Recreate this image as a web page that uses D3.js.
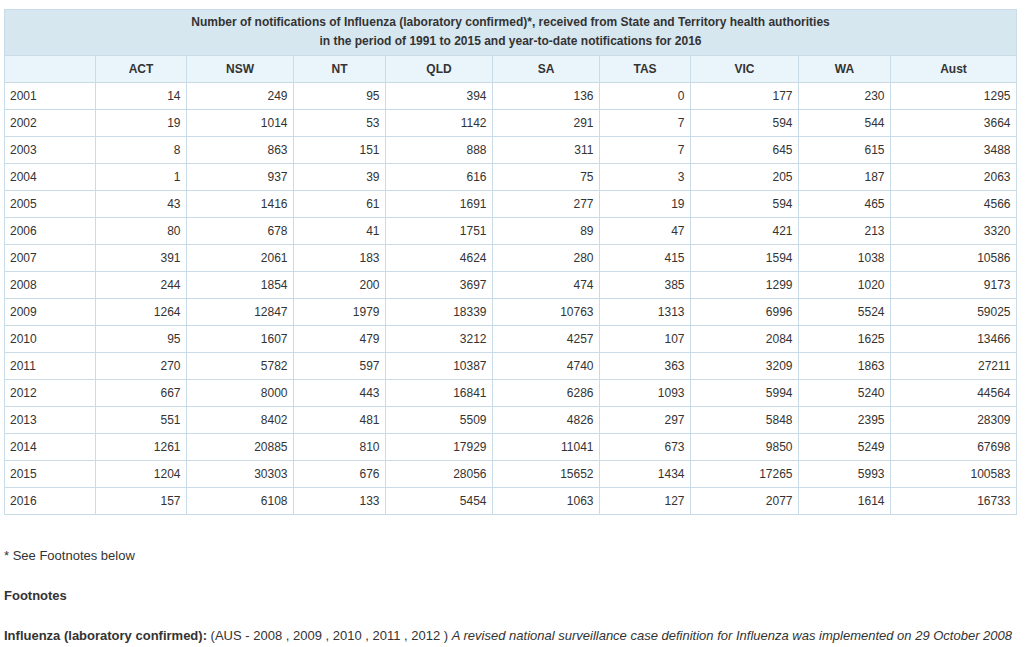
<!DOCTYPE html>
<html>
<head>
<meta charset="utf-8">
<script src="https://cdn.jsdelivr.net/npm/d3@7"></script>
<style>
  body { margin: 0; background: #fff; }
  text { font-family: "Liberation Sans", Arial, sans-serif; fill: #333; }
</style>
</head>
<body>
<svg id="chart" width="1029" height="647"></svg>
<script>
// Table data
var states = ["ACT", "NSW", "NT", "QLD", "SA", "TAS", "VIC", "WA", "Aust"];
var years = [2001, 2002, 2003, 2004, 2005, 2006, 2007, 2008, 2009, 2010, 2011, 2012, 2013, 2014, 2015, 2016];
var ACT = [14, 19, 8, 1, 43, 80, 391, 244, 1264, 95, 270, 667, 551, 1261, 1204, 157];
var NSW = [249, 1014, 863, 937, 1416, 678, 2061, 1854, 12847, 1607, 5782, 8000, 8402, 20885, 30303, 6108];
var NT = [95, 53, 151, 39, 61, 41, 183, 200, 1979, 479, 597, 443, 481, 810, 676, 133];
var QLD = [394, 1142, 888, 616, 1691, 1751, 4624, 3697, 18339, 3212, 10387, 16841, 5509, 17929, 28056, 5454];
var SA = [136, 291, 311, 75, 277, 89, 280, 474, 10763, 4257, 4740, 6286, 4826, 11041, 15652, 1063];
var TAS = [0, 7, 7, 3, 19, 47, 415, 385, 1313, 107, 363, 1093, 297, 673, 1434, 127];
var VIC = [177, 594, 645, 205, 594, 421, 1594, 1299, 6996, 2084, 3209, 5994, 5848, 9850, 17265, 2077];
var WA = [230, 544, 615, 187, 465, 213, 1038, 1020, 5524, 1625, 1863, 5240, 2395, 5249, 5993, 1614];
var Aust = [1295, 3664, 3488, 2063, 4566, 3320, 10586, 9173, 59025, 13466, 27211, 44564, 28309, 67698, 100583, 16733];
var series = [ACT, NSW, NT, QLD, SA, TAS, VIC, WA, Aust];

var titleLines = [
  "Number of notifications of Influenza (laboratory confirmed)*, received from State and Territory health authorities",
  "in the period of 1991 to 2015 and year-to-date notifications for 2016"
];

// layout
var colEdges = [4.5, 95.5, 186.5, 293.5, 385.5, 492.5, 599.5, 690.5, 798.5, 890.5, 1016.5];
var titleTop = 9.5, headTop = 55.5, bodyTop = 82.5, rowH = 27;
var left = colEdges[0], right = colEdges[colEdges.length - 1];
var border = "#c9dbe7";

var svg = d3.select("#chart");

var y = d3.scaleBand()
  .domain(years)
  .range([bodyTop, bodyTop + rowH * years.length]);

// title block
svg.append("rect")
  .attr("x", left).attr("y", titleTop)
  .attr("width", right - left).attr("height", headTop - titleTop)
  .attr("fill", "#d7e7f0").attr("stroke", border);

svg.selectAll(".title")
  .data(titleLines)
  .enter().append("text")
  .attr("x", (left + right) / 2)
  .attr("y", (d, i) => 26 + i * 19)
  .attr("text-anchor", "middle")
  .style("font-size", "12px")
  .style("font-weight", "bold")
  .text(d => d);

// header row
svg.append("rect")
  .attr("x", left).attr("y", headTop)
  .attr("width", right - left).attr("height", bodyTop - headTop)
  .attr("fill", "#e9f4fb").attr("stroke", border);

svg.selectAll(".head")
  .data(states)
  .enter().append("text")
  .attr("x", (d, i) => (colEdges[i + 1] + colEdges[i + 2]) / 2)
  .attr("y", 73)
  .attr("text-anchor", "middle")
  .style("font-size", "12px")
  .style("font-weight", "bold")
  .text(d => d);

// body rows
var rows = svg.selectAll(".row")
  .data(years)
  .enter().append("g")
  .attr("transform", d => "translate(0," + y(d) + ")");

rows.append("rect")
  .attr("x", left).attr("width", right - left)
  .attr("height", y.bandwidth())
  .attr("fill", "#fff").attr("stroke", border);

rows.append("text")
  .attr("x", 10)
  .attr("y", 17.5)
  .style("font-size", "12px")
  .text(d => d);

rows.selectAll(".val")
  .data((d, r) => series.map(s => s[r]))
  .enter().append("text")
  .attr("x", (d, i) => colEdges[i + 2] - 6)
  .attr("y", 17.5)
  .attr("text-anchor", "end")
  .style("font-size", "12px")
  .text(d => d);

// vertical column lines
svg.selectAll(".vline")
  .data(colEdges.slice(1, -1))
  .enter().append("line")
  .attr("x1", d => d).attr("x2", d => d)
  .attr("y1", headTop).attr("y2", bodyTop + rowH * years.length)
  .attr("stroke", border);

// footnotes
svg.append("text")
  .attr("x", 4).attr("y", 560)
  .style("font-size", "13px")
  .text("* See Footnotes below");

svg.append("text")
  .attr("x", 4).attr("y", 600)
  .style("font-size", "13px")
  .style("font-weight", "bold")
  .text("Footnotes");

var note = svg.append("text")
  .attr("x", 4).attr("y", 640)
  .style("font-size", "13px");
note.append("tspan").style("font-weight", "bold").text("Influenza (laboratory confirmed):");
note.append("tspan").text(" (AUS - 2008 , 2009 , 2010 , 2011 , 2012 ) ");
note.append("tspan").style("font-style", "italic")
  .text("A revised national surveillance case definition for Influenza was implemented on 29 October 2008");
</script>
</body>
</html>
